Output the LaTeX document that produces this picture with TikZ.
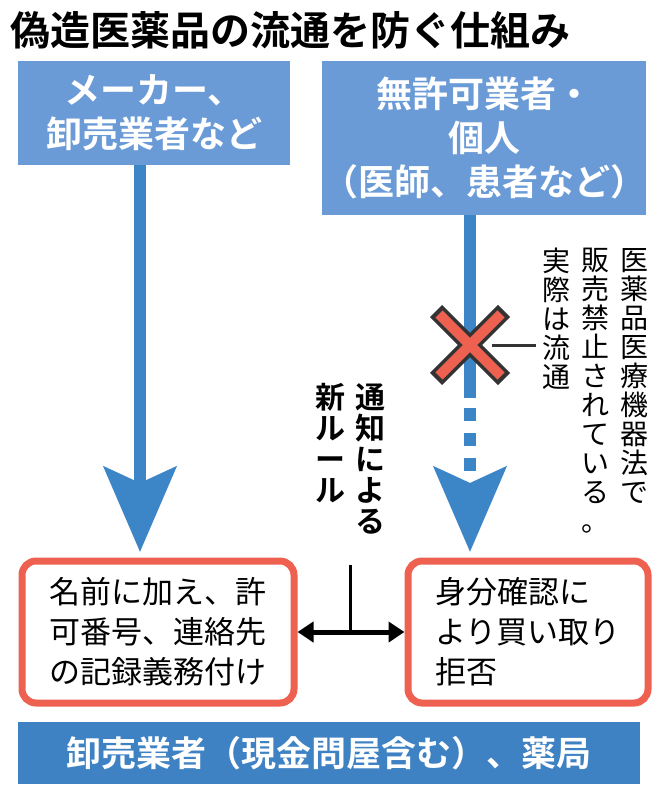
\documentclass[tikz,border=0pt]{standalone}
\usepackage{fontspec}
\setmainfont{Noto Sans CJK JP}
\newfontfamily\jpbold{Noto Sans CJK JP Bold}
\usetikzlibrary{arrows.meta,positioning,calc}
\definecolor{srcblue}{HTML}{6A9BD6}
\definecolor{flowblue}{HTML}{3C86C8}
\definecolor{barblue}{HTML}{3E82C4}
\definecolor{boxred}{HTML}{EE6150}
\begin{document}
\begin{tikzpicture}[x=1pt,y=-1pt,
		srcbox/.style={fill=srcblue,text=white,font=\jpbold\fontsize{36}{44}\selectfont,align=center,inner sep=0pt},
		resbox/.style={draw=boxred,line width=7pt,rounded corners=14pt,fill=white,font=\fontsize{31}{40}\selectfont,align=left,inner sep=0pt},
		flow/.style={draw=flowblue,line width=12pt},
		bigtip/.style={-{Stealth[length=85pt,width=72pt,inset=16pt]}},
		vnote/.style={font=\fontsize{28}{29}\selectfont,align=center,inner sep=0pt,anchor=north},
		vrule/.style={font=\jpbold\fontsize{30}{31}\selectfont,align=center,inner sep=0pt,anchor=north}]
		\useasboundingbox (0,0) rectangle (666,800);
		\node[font=\jpbold\fontsize{40}{44}\selectfont,anchor=west,inner sep=0pt] (title) at (10,30) {偽造医薬品の流通を防ぐ仕組み};
		
		\node[srcbox,minimum width=272pt,minimum height=103pt] (maker) at (154,113) {メーカー、\\卸売業者など};
		\node[srcbox,minimum width=312pt,minimum height=153pt] (illegal) at (484,138) {無許可業者・\\個人\\（医師、患者など）};
		
		\node[resbox,minimum width=272pt,minimum height=142pt] (record) at (158,632) {名前に加え、許\\可番号、連絡先\\の記録義務付け};
		\node[resbox,minimum width=240pt,minimum height=142pt] (refuse) at (528,632) {身分確認に\\より買い取り\\拒否};
		\node[fill=barblue,text=white,font=\jpbold\fontsize{35}{40}\selectfont,minimum width=622pt,minimum height=62pt,inner sep=0pt] (dealer) at (329,753) {卸売業者（現金問屋含む）、薬局};
		
		% flows
		\draw[flow,bigtip] (maker.south -| 140,0) -- (140,552);
		\coordinate (cut) at (470,345);
		\draw[flow] (illegal.south -| cut) -- (470,398);
		\draw[flow,bigtip,dash pattern=on 13pt off 12pt] (470,408) -- (470,552);
		
		% cross mark
		\draw[line width=17pt,draw=black!80] ($(cut)+(-34,-34)$) -- ($(cut)+(34,34)$) ($(cut)+(34,-34)$) -- ($(cut)+(-34,34)$);
		\draw[line width=10pt,draw=boxred] ($(cut)+(-31,-31)$) -- ($(cut)+(31,31)$) ($(cut)+(31,-31)$) -- ($(cut)+(-31,31)$);
		\coordinate (lead) at (536,345);
		\draw[line width=3pt,draw=black!80] ($(cut)+(22,0)$) -- (lead);
		
		% notes
		\node[vnote] (law) at (634,248) {医\\薬\\品\\医\\療\\機\\器\\法\\で};
		\node[vnote] (ban) at (595,248) {販\\売\\禁\\止\\さ\\れ\\て\\い\\る\\。};
		\node[vnote] (real) at (556,248) {実\\際\\は\\流\\通};
		\node[vrule] (notice) at (370,383) {通\\知\\に\\よ\\る};
		\node[vrule] (newrule) at (330,383) {新\\ル\\ー\\ル};
		
		% new rule
		\coordinate (fork) at (350,632);
		\draw[line width=3pt] (350,565) -- (fork);
		\draw[line width=5pt,{Triangle[length=16pt,width=20pt]}-{Triangle[length=16pt,width=20pt]}] (record.east) -- (refuse.west);
\end{tikzpicture}
\end{document}
